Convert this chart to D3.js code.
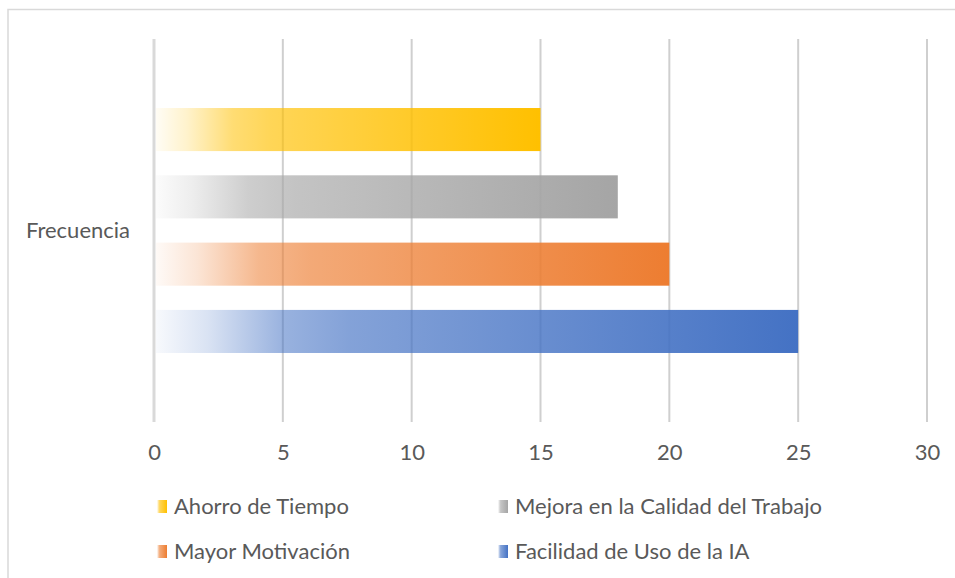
<!DOCTYPE html>
<html>
<head>
<meta charset="utf-8">
<script src="https://cdn.jsdelivr.net/npm/d3@7"></script>
<style>
  body { margin: 0; background: #fff; }
  svg text { font-family: Lato, "Open Sans", sans-serif; fill: #595959; }
</style>
</head>
<body>
<div class="svg-container"></div>
<script>
// chart data
const category = 'Frecuencia';
const seriesNames = ['Ahorro de Tiempo', 'Mejora en la Calidad del Trabajo', 'Mayor Motivación', 'Facilidad de Uso de la IA'];
const seriesValues = [15, 18, 20, 25];
const seriesColours = ['#ffc000', '#a5a5a5', '#ed7d31', '#4472c4'];
const xTicks = [0, 5, 10, 15, 20, 25, 30];

// set up required dimensions
const width = 955;
const height = 578;
const plot = { left: 154, right: 927, top: 39, bottom: 422 };
const fontSize = '22px';

const svg = d3.select('.svg-container')
  .append('svg')
  .attr('width', width)
  .attr('height', height);

// gradients, one per series (fade in from the left like the office fill)
const defs = svg.append('defs');
seriesNames.forEach((name, i) => {
  const g = defs.append('linearGradient')
    .attr('id', 'grad' + i)
    .attr('x1', '0%').attr('x2', '100%')
    .attr('y1', '0%').attr('y2', '0%');
  [[0, 0.04], [0.08, 0.2], [0.2, 0.55], [0.3, 0.66], [1, 1]].forEach(s => {
    g.append('stop')
      .attr('offset', s[0])
      .attr('stop-color', seriesColours[i])
      .attr('stop-opacity', s[1]);
  });
});

// outer frame
svg.append('rect')
  .attr('x', 8).attr('y', 9.5)
  .attr('width', 1000).attr('height', 700)
  .attr('fill', 'none')
  .attr('stroke', '#d9d9d9')
  .attr('stroke-width', 1.5);

// scales
const x = d3.scaleLinear()
  .domain([0, 30])
  .range([plot.left, plot.right]);

const y = d3.scaleBand()
  .domain(seriesNames)
  .range([95.9, 365.1])
  .paddingInner(0.36)
  .paddingOuter(0.18);

// gridlines
svg.append('g')
  .selectAll('line')
  .data(xTicks)
  .enter()
  .append('line')
  .attr('x1', d => x(d)).attr('x2', d => x(d))
  .attr('y1', plot.top).attr('y2', plot.bottom)
  .attr('stroke', d => d === 0 ? '#d9d9d9' : '#cfcfcf')
  .attr('stroke-width', d => d === 0 ? 3 : 2);

// bars
svg.append('g')
  .selectAll('rect')
  .data(seriesNames)
  .enter()
  .append('rect')
  .attr('x', x(0) + 2)
  .attr('y', d => y(d))
  .attr('width', (d, i) => x(seriesValues[i]) - x(0) - 2)
  .attr('height', y.bandwidth())
  .attr('fill', (d, i) => 'url(#grad' + i + ')');

// x axis labels
const xAxis = d3.axisBottom(x)
  .tickValues(xTicks)
  .tickSize(0)
  .tickPadding(0);

const axisG = svg.append('g')
  .attr('transform', `translate(0, ${plot.bottom + 38})`)
  .call(xAxis);
axisG.select('.domain').remove();
axisG.selectAll('text')
  .attr('dy', 0)
  .style('font-family', 'Lato, "Open Sans", sans-serif')
  .style('font-size', fontSize)
  .style('fill', '#595959');

// category label
svg.append('text')
  .attr('x', 130)
  .attr('y', 238)
  .attr('text-anchor', 'end')
  .style('font-size', fontSize)
  .text(category);

// legend
const legendPos = [[157, 514], [498, 514], [157, 559], [498, 559]];
const legend = svg.append('g')
  .selectAll('g')
  .data(seriesNames)
  .enter()
  .append('g')
  .attr('transform', (d, i) => `translate(${legendPos[i][0]}, ${legendPos[i][1]})`);

legend.append('rect')
  .attr('x', 0).attr('y', -14)
  .attr('width', 10).attr('height', 13)
  .attr('fill', (d, i) => 'url(#grad' + i + ')');

legend.append('text')
  .attr('x', 17).attr('y', 0)
  .style('font-size', fontSize)
  .text(d => d);
</script>
</body>
</html>
